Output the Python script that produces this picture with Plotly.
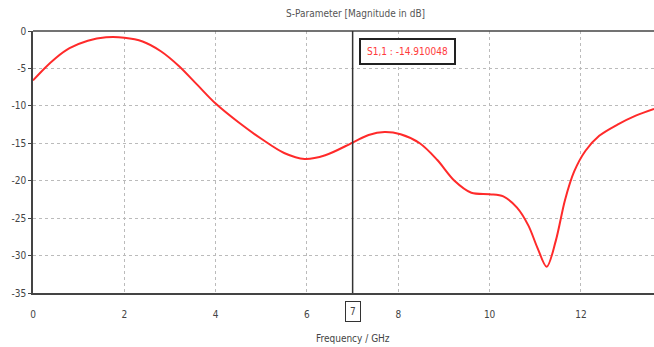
import plotly.graph_objects as go

# S11 magnitude sampled over frequency
freq_ghz = [0.0, 0.25, 0.5, 0.8, 1.2, 1.6, 2.0, 2.4, 2.8, 3.2, 3.6,
            4.0, 4.5, 5.0, 5.5, 5.95, 6.4, 7.0, 7.35, 7.7, 8.05, 8.47, 8.85, 9.23,
            9.6, 10.0, 10.3, 10.6, 10.85, 11.05, 11.25, 11.45, 11.65, 11.85,
            12.1, 12.4, 12.8, 13.2, 13.6]
s11_db = [-6.6, -5.0, -3.6, -2.3, -1.3, -0.85, -0.9, -1.4, -2.7, -4.7, -7.2,
          -9.7, -12.2, -14.4, -16.3, -17.1, -16.6, -14.91, -13.9, -13.5, -13.8, -15.0, -17.2, -20.0,
          -21.6, -21.8, -22.1, -23.6, -26.0, -29.0, -31.5, -28.0, -22.6, -18.8,
          -16.0, -14.0, -12.5, -11.3, -10.4]

marker_freq = 7.0
marker_value = -14.910048

x_ticks = [0, 2, 4, 6, 8, 10, 12]
y_ticks = [0, -5, -10, -15, -20, -25, -30, -35]

tick_font = dict(family="DejaVu Sans Condensed, Liberation Sans Narrow, sans-serif", size=10, color="#444")

fig = go.Figure()
fig.add_trace(go.Scatter(
    x=freq_ghz, y=s11_db, mode="lines",
    line=dict(color="#ff2a2a", width=2, shape="spline", smoothing=0.9),
    hoverinfo="skip", showlegend=False,
))

# top frame line
fig.add_shape(type="line", x0=0, x1=1, y0=1, y1=1, xref="paper", yref="paper",
              line=dict(color="#444", width=1.5))

# cursor line at the marker frequency
fig.add_shape(type="line", x0=marker_freq, x1=marker_freq, y0=-35, y1=0,
              xref="x", yref="y", line=dict(color="#333", width=1.5))

# marker readout box
fig.add_annotation(x=7.13, y=-0.9, xref="x", yref="y", xanchor="left", yanchor="top",
                   text=f"S1,1 : {marker_value:.6f}", showarrow=False,
                   font=dict(family="DejaVu Sans Condensed, sans-serif", size=10, color="#ff3a3a"),
                   bgcolor="white", bordercolor="#222", borderwidth=2, borderpad=6)

# boxed tick label at the marker frequency
fig.add_annotation(x=marker_freq, y=0, xref="x", yref="paper", yanchor="top", yshift=-8,
                   text="7", showarrow=False, font=tick_font,
                   bordercolor="#333", borderwidth=1, borderpad=4, bgcolor="white")

fig.add_annotation(x=0.52, y=1.0, xref="paper", yref="paper", yshift=10, yanchor="bottom",
                   text="S-Parameter [Magnitude in dB]", showarrow=False,
                   font=dict(family="DejaVu Sans Condensed, sans-serif", size=10, color="#555"))

fig.add_annotation(x=0.515, y=0, xref="paper", yref="paper", yshift=-38, yanchor="top",
                   text="Frequency / GHz", showarrow=False,
                   font=dict(family="DejaVu Sans Condensed, sans-serif", size=10, color="#444"))

fig.update_layout(
    width=654, height=347,
    margin=dict(l=33, r=0, t=31, b=54),
    paper_bgcolor="white", plot_bgcolor="white",
    xaxis=dict(range=[0, 13.6], tickvals=x_ticks, ticktext=[str(v) for v in x_ticks],
               showgrid=True, gridcolor="#bbb", griddash="dot", gridwidth=1,
               showline=True, linecolor="#444", linewidth=1.5,
               # long invisible ticks push the labels clear of the axis
               ticks="outside", ticklen=11, tickcolor="rgba(255,255,255,0)", tickfont=tick_font,
               zeroline=False, fixedrange=True),
    yaxis=dict(range=[-35, 0], tickvals=y_ticks, ticktext=[str(v) for v in y_ticks],
               showgrid=True, gridcolor="#bbb", griddash="dot", gridwidth=1,
               showline=True, linecolor="#444", linewidth=1.5,
               ticks="outside", ticklen=3, tickcolor="#444", tickfont=tick_font,
               zeroline=False, fixedrange=True),
)

fig.write_html("out.html")
